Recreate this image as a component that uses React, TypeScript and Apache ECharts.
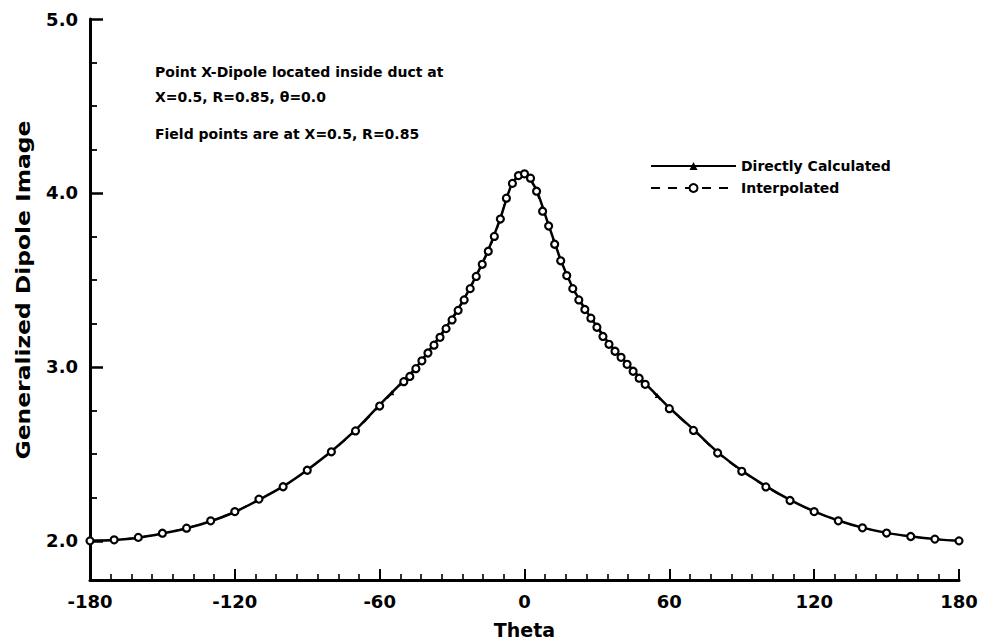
import React, { useEffect, useRef } from "react";
import * as echarts from "echarts";

const FONT = "'DejaVu Sans', 'Liberation Sans', Arial, sans-serif";

const seriesNames = ["Directly Calculated", "Interpolated"];
const xTitle = "Theta";
const yTitle = "Generalized Dipole Image";
const annotationLines = [
  "Point X-Dipole located inside duct at",
  "X=0.5, R=0.85, θ=0.0",
  "Field points are at X=0.5, R=0.85",
];

const xMajorTicks = [-180, -120, -60, 0, 60, 120, 180];
const xMinorPerMajor = 7;
const yLabelValues = [2, 3, 4, 5];
const yMinorValues = [2.25, 2.5, 2.75, 3.25, 3.5, 3.75, 4.25, 4.5, 4.75];
const X_MIN = -180;
const X_MAX = 180;
const Y_MIN = 1.775;
const Y_MAX = 5;

const interpTheta = [
  -180, -170, -160, -150, -140, -130, -120, -110, -100, -90, -80, -70, -60, -50,
  -47.5, -45, -42.5, -40, -37.5, -35, -32.5, -30, -27.5, -25, -22.5, -20, -17.5, -15,
  -12.5, -10, -7.5, -5, -2.5, 0, 2.5, 5, 7.5, 10, 12.5, 15, 17.5, 20, 22.5, 25, 27.5,
  30, 32.5, 35, 37.5, 40, 42.5, 45, 47.5,
  50, 60, 70, 80, 90, 100, 110, 120, 130, 140, 150, 160, 170, 180,
];
const interpValues = [
  2.0, 2.006, 2.02, 2.044, 2.073, 2.115, 2.168, 2.24, 2.311, 2.406, 2.512, 2.632, 2.775, 2.915,
  2.945, 2.99, 3.035, 3.08, 3.125, 3.17, 3.22, 3.27, 3.325, 3.385, 3.45, 3.52, 3.59, 3.665,
  3.75, 3.85, 3.97, 4.055, 4.1, 4.11, 4.085, 4.01, 3.895, 3.81, 3.705, 3.61, 3.525, 3.45, 3.385, 3.33, 3.28,
  3.228, 3.175, 3.13, 3.09, 3.055, 3.015, 2.975, 2.935,
  2.9, 2.76, 2.635, 2.505, 2.4, 2.31, 2.232, 2.168, 2.115, 2.075, 2.045, 2.025, 2.01, 2.0,
];

const directTheta = [
  -180, -170, -160, -150, -140, -130, -120, -110, -100, -90, -80, -70, -60,
  -55, -50, -45, -40, -35, -30, -25, -20, -15, -10, -5, 0, 5, 10, 15, 20, 25, 30, 35, 40, 45, 50, 55,
  60, 70, 80, 90, 100, 110, 120, 130, 140, 150, 160, 170, 180,
];
const directValues = [
  2.0, 2.005, 2.018, 2.042, 2.072, 2.113, 2.166, 2.236, 2.313, 2.408, 2.515, 2.638, 2.782,
  2.852, 2.922, 2.995, 3.085, 3.178, 3.278, 3.392, 3.525, 3.672, 3.855, 4.06, 4.115, 4.015, 3.815, 3.615, 3.455, 3.335, 3.232, 3.135, 3.058, 2.98, 2.905, 2.835,
  2.765, 2.64, 2.51, 2.405, 2.315, 2.236, 2.17, 2.117, 2.076, 2.046, 2.026, 2.01, 2.0,
];

export default function App() {
  const ref = useRef<HTMLDivElement>(null);
  useEffect(() => {
    if (!ref.current) return;
    const chart = echarts.init(ref.current, null, { renderer: "svg" });
    const zip = (xs: number[], ys: number[]) => xs.map((x, i) => [x, ys[i]]);
    const bold = (size: number) => ({ fontFamily: FONT, fontWeight: "bold" as const, fontSize: size, color: "#000" });
    const xMinorValues: number[] = [];
    for (let i = 0; i < xMajorTicks.length - 1; i++) {
      const step = (xMajorTicks[i + 1] - xMajorTicks[i]) / xMinorPerMajor;
      for (let k = 1; k < xMinorPerMajor; k++) xMinorValues.push(xMajorTicks[i] + k * step);
    }

    chart.setOption({
      animation: false,
      backgroundColor: "#fff",
      grid: { left: 90, right: 22, top: 19, bottom: 62 },
      legend: {
        orient: "vertical",
        left: 645,
        top: 152,
        itemWidth: 85,
        itemHeight: 10,
        itemGap: 4,
        data: seriesNames,
        textStyle: { ...bold(14), lineHeight: 18 },
      },
      xAxis: [
        {
          type: "value",
          min: X_MIN,
          max: X_MAX,
          interval: 60,
          name: xTitle,
          nameLocation: "middle",
          nameGap: 40,
          nameTextStyle: bold(19),
          axisLine: { show: true, onZero: false, lineStyle: { color: "#000", width: 3 } },
          axisTick: { show: true, inside: true, length: 11, lineStyle: { color: "#000", width: 2 } },
          axisLabel: { ...bold(18), margin: 12 },
          splitLine: { show: false },
        },
        {
          type: "value",
          min: X_MIN,
          max: X_MAX,
          position: "bottom",
          axisLine: { show: false, onZero: false },
          axisTick: { show: true, inside: true, length: 6, customValues: xMinorValues, lineStyle: { color: "#000", width: 1.6 } },
          axisLabel: { show: false },
          splitLine: { show: false },
        },
      ],
      yAxis: [
        {
          type: "value",
          min: Y_MIN,
          max: Y_MAX,
          axisLine: { show: true, onZero: false, lineStyle: { color: "#000", width: 3 } },
          axisTick: { show: true, inside: true, length: 13, customValues: yLabelValues, lineStyle: { color: "#000", width: 2.5 } },
          axisLabel: { ...bold(18), margin: 12, customValues: yLabelValues, formatter: (v: number) => v.toFixed(1) },
          splitLine: { show: false },
        },
        {
          type: "value",
          min: Y_MIN,
          max: Y_MAX,
          position: "left",
          axisLine: { show: false, onZero: false },
          axisTick: { show: true, inside: true, length: 7, customValues: yMinorValues, lineStyle: { color: "#000", width: 1.8 } },
          axisLabel: { show: false },
          splitLine: { show: false },
        },
      ],
      graphic: [
        {
          type: "text",
          x: 23,
          y: 290,
          rotation: Math.PI / 2,
          scaleX: 1.17,
          style: { text: yTitle, font: `bold 20px ${FONT}`, fill: "#000", align: "center", verticalAlign: "middle" },
        },
        ...annotationLines.map((t, i) => ({
          type: "text",
          x: 155,
          y: [72, 97, 134][i],
          style: { text: t, font: `bold 14px ${FONT}`, fill: "#000", align: "left", verticalAlign: "middle" },
        })),
      ],
      series: [
        {
          name: seriesNames[0],
          type: "line",
          data: zip(directTheta, directValues),
          smooth: 0.2,
          symbol: "triangle",
          symbolSize: 5,
          itemStyle: { color: "#000" },
          lineStyle: { color: "#000", width: 2.5 },
        },
        {
          name: seriesNames[1],
          type: "line",
          data: zip(interpTheta, interpValues),
          smooth: 0.2,
          symbol: "circle",
          symbolSize: 7,
          itemStyle: { color: "#fff", borderColor: "#000", borderWidth: 2.2 },
          lineStyle: { color: "#000", width: 1.5, type: [9, 8] },
        },
      ],
    });
    return () => chart.dispose();
  }, []);
  return <div ref={ref} style={{ position: "absolute", left: 0, top: 0, width: 981, height: 644 }} />;
}
